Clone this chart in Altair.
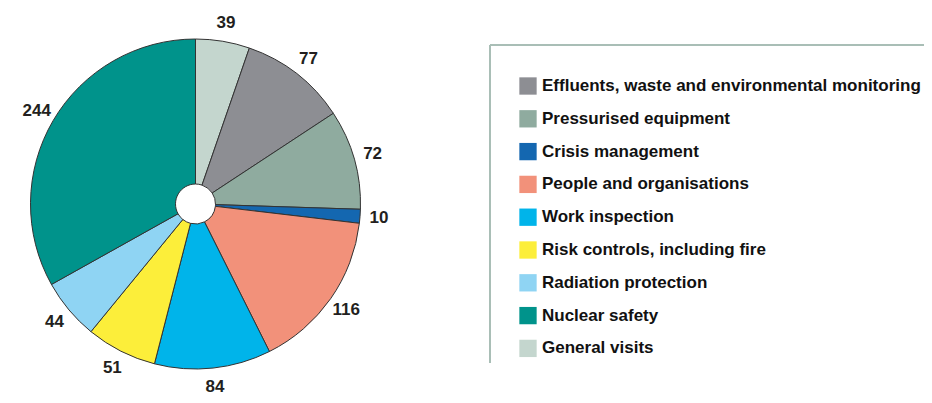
import altair as alt
import pandas as pd

# Legend order (top to bottom)
legend_order = [
    "Effluents, waste and environmental monitoring",
    "Pressurised equipment",
    "Crisis management",
    "People and organisations",
    "Work inspection",
    "Risk controls, including fire",
    "Radiation protection",
    "Nuclear safety",
    "General visits",
]
legend_colors = [
    "#8d8e93",
    "#8fab9f",
    "#1467b0",
    "#f2917a",
    "#00b4ea",
    "#fcee3a",
    "#8fd4f3",
    "#00938b",
    "#c4d6ce",
]

# Pie order (clockwise from 12 o'clock) and counts
pie_order = [
    "General visits",
    "Effluents, waste and environmental monitoring",
    "Pressurised equipment",
    "Crisis management",
    "People and organisations",
    "Work inspection",
    "Risk controls, including fire",
    "Radiation protection",
    "Nuclear safety",
]
counts = [39, 77, 72, 10, 116, 84, 51, 44, 244]

df = pd.DataFrame({"category": pie_order, "count": counts, "order": list(range(len(pie_order)))})

FONT = "Liberation Sans, Arial, sans-serif"
CX, CY = 187.5, 196

base = alt.Chart(df).encode(
    theta=alt.Theta("count:Q", stack=True),
    order=alt.Order("order:Q", sort="ascending"),
)

arcs = base.mark_arc(innerRadius=20, outerRadius=165, stroke="#333333", strokeWidth=1).encode(
    color=alt.Color(
        "category:N",
        scale=alt.Scale(domain=legend_order, range=legend_colors),
        legend=alt.Legend(
            title=None,
            orient="none",
            legendX=511,
            legendY=69,
            symbolType="square",
            symbolSize=300,
            symbolStrokeWidth=0,
            symbolOpacity=1,
            labelFont=FONT,
            labelFontSize=17,
            labelFontWeight="bold",
            labelColor="#111111",
            labelOffset=5,
            labelLimit=600,
            rowPadding=14.8,
            padding=0,
        ),
    ),
    x=alt.value(CX),
    y=alt.value(CY),
)

labels = base.mark_text(radius=184, font=FONT, fontSize=17, fontWeight="bold", color="#231f20").encode(
    text="count:Q",
    x=alt.value(CX),
    y=alt.value(CY),
)

frame_df = pd.DataFrame({"v": [0]})
top_rule = alt.Chart(frame_df).mark_rule(color="#a9beb6", strokeWidth=2).encode(
    x=alt.value(482), x2=alt.value(916), y=alt.value(37)
)
left_rule = alt.Chart(frame_df).mark_rule(color="#a9beb6", strokeWidth=2).encode(
    x=alt.value(482), y=alt.value(37), y2=alt.value(355)
)

chart = (
    alt.layer(arcs, labels, top_rule, left_rule)
    .properties(width=916, height=387, autosize=alt.AutoSizeParams(type="none"), padding=0)
    .configure_view(stroke=None)
)

chart.save("out.html", embed_options={"renderer": "svg", "actions": False})
